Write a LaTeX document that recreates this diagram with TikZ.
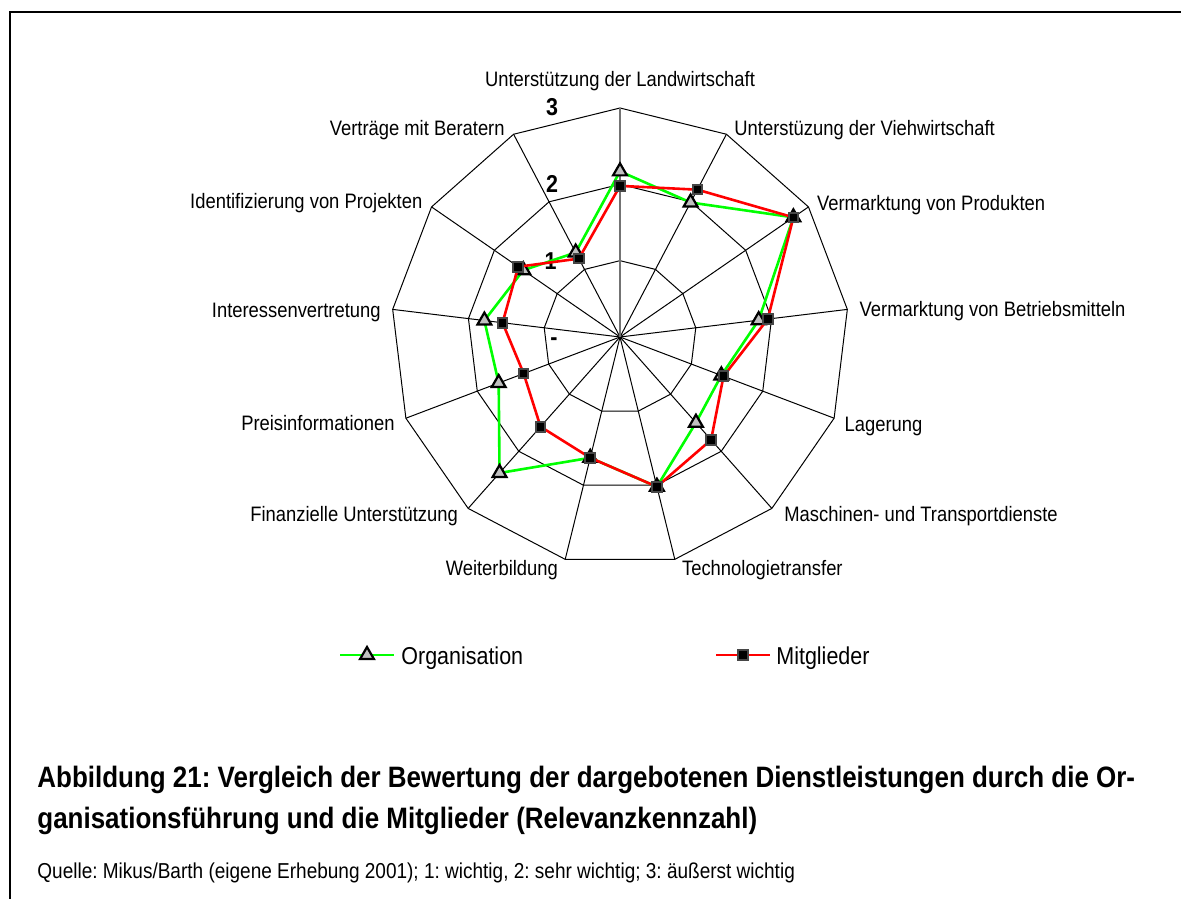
\documentclass[tikz,border=0pt]{standalone}
\usepackage{fontspec}
\setmainfont{Liberation Sans}[FakeStretch=0.88]
\usetikzlibrary{calc,shapes.geometric}
\definecolor{orggreen}{RGB}{0,255,0}
\definecolor{memred}{RGB}{255,0,0}
\definecolor{markgray}{RGB}{192,192,192}
\definecolor{sqgray}{RGB}{70,70,70}

\begin{document}
\frenchspacing
\begin{tikzpicture}[x=0.5pt,y=-0.5pt,
  grid/.style={black,line width=0.5pt},
  axisline/.style={black!55,line width=0.8pt},
  orgline/.style={orggreen,line width=1.3pt,line join=round},
  memline/.style={memred,line width=1.3pt,line join=round},
  orgmark/.style={regular polygon,regular polygon sides=3,fill=markgray,draw=black,line width=1.1pt,inner sep=0pt,minimum size=8pt},
  memmark/.style={rectangle,fill=black,draw=sqgray,line width=1pt,inner sep=0pt,minimum size=4.8pt},
  catlabel/.style={font=\fontsize{10.45}{12}\selectfont,inner sep=0pt},
  ticklabel/.style={font=\bfseries\fontsize{12.2}{14}\selectfont,inner sep=0pt,anchor=base east},
  legendtext/.style={font=\fontsize{12.2}{14}\selectfont,inner sep=0pt,anchor=base west},
  captionbold/.style={font=\bfseries\fontsize{14.75}{17}\selectfont,inner sep=0pt,anchor=base west},
  sourcetext/.style={font=\fontsize{10.8}{13}\selectfont,inner sep=0pt,anchor=base west},
  frameline/.style={black,line width=1.35pt}
]
\useasboundingbox (0,0) rectangle (1181,899);

% frame (top and left edges)
\coordinate (fTR) at (1181,12);
\coordinate (fTL) at (10,12);
\coordinate (fBL) at (10,899);
\draw[frameline] (fTR) -- (fTL) -- (fBL);

% chart centre and grid vertices (13 axes, 3 rings)
\coordinate (C) at (620,337);
\foreach \ring/\rad in {1/76.33,2/152.67,3/229}{
  \foreach \k in {0,...,12}{
    \coordinate (r\ring-\k) at ($(C)+({-90+\k*360/13}:\rad)$);
  }
}
% rings
\foreach \ring in {1,2,3}{
  \draw[grid] (r\ring-0) \foreach \k in {1,...,12}{ -- (r\ring-\k)} -- cycle;
}
% spokes
\foreach \k in {1,...,12}{
  \draw[grid] (C) -- (r3-\k);
}
\draw[axisline] (C) -- (r3-0);

% value axis labels
\node[ticklabel] (t3) at (558.5,115) {3};
\node[ticklabel] (t2) at (558.5,192) {2};
\node[ticklabel] (t1) at (557,269) {1};
\node[ticklabel] (t0) at (558,345) {-};

% category labels
\node[catlabel,anchor=base] (lab0) at (620,86.7) {Unterstützung der Landwirtschaft};
\node[catlabel,anchor=base west] (lab1) at (734,135) {Unterstüzung der Viehwirtschaft};
\node[catlabel,anchor=base west] (lab2) at (816.7,210) {Vermarktung von Produkten};
\node[catlabel,anchor=base west] (lab3) at (859.3,316) {Vermarktung von Betriebsmitteln};
\node[catlabel,anchor=base west] (lab4) at (844.3,431) {Lagerung};
\node[catlabel,anchor=base west] (lab5) at (784,521) {Maschinen- und Transportdienste};
\node[catlabel,anchor=base west] (lab6) at (681.7,575) {Technologietransfer};
\node[catlabel,anchor=base east] (lab7) at (558.3,575) {Weiterbildung};
\node[catlabel,anchor=base east] (lab8) at (458.3,521.7) {Finanzielle Unterstützung};
\node[catlabel,anchor=base east] (lab9) at (395,430) {Preisinformationen};
\node[catlabel,anchor=base east] (lab10) at (381,317) {Interessenvertretung};
\node[catlabel,anchor=base east] (lab11) at (422.7,208.3) {Identifizierung von Projekten};
\node[catlabel,anchor=base east] (lab12) at (505,135) {Verträge mit Beratern};

% data points (1 unit = 76.33)
\foreach \v [count=\k from 0] in {2.17,1.99,2.76,1.83,1.42,1.50,2.02,1.63,2.38,1.70,1.79,1.54,1.25}{
  \coordinate (o\k) at ($(C)+({-90+\k*360/13}:{\v*76.33})$);
}
\foreach \v [count=\k from 0] in {1.98,2.18,2.76,1.95,1.45,1.80,2.02,1.63,1.57,1.35,1.55,1.62,1.16}{
  \coordinate (m\k) at ($(C)+({-90+\k*360/13}:{\v*76.33})$);
}

% series: Organisation
\draw[orgline] (o0) \foreach \k in {1,...,12}{ -- (o\k)} -- cycle;
\foreach \k in {0,...,12}{ \node[orgmark] (om\k) at (o\k) {}; }
% series: Mitglieder
\draw[memline] (m0) \foreach \k in {1,...,12}{ -- (m\k)} -- cycle;
\foreach \k in {0,...,12}{ \node[memmark] (mm\k) at (m\k) {}; }

% legend
\coordinate (lgoA) at (340,655);
\coordinate (lgoB) at (394,655);
\draw[orgline] (lgoA) -- (lgoB);
\node[orgmark] (lgoM) at (367,655) {};
\node[legendtext] (lgoT) at (401,664) {Organisation};
\coordinate (lgmA) at (716,655);
\coordinate (lgmB) at (770,655);
\draw[memline] (lgmA) -- (lgmB);
\node[memmark] (lgmM) at (743,655) {};
\node[legendtext] (lgmT) at (776,664) {Mitglieder};

% caption
\node[captionbold] (cap1) at (37,787) {Abbildung 21: Vergleich der Bewertung der dargebotenen Dienstleistungen durch die Or-};
\node[captionbold] (cap2) at (37,828) {ganisationsführung und die Mitglieder (Relevanzkennzahl)};
\node[sourcetext] (src) at (37,878) {Quelle: Mikus/Barth (eigene Erhebung 2001); 1: wichtig, 2: sehr wichtig; 3: äußerst wichtig};
\end{tikzpicture}
\end{document}
